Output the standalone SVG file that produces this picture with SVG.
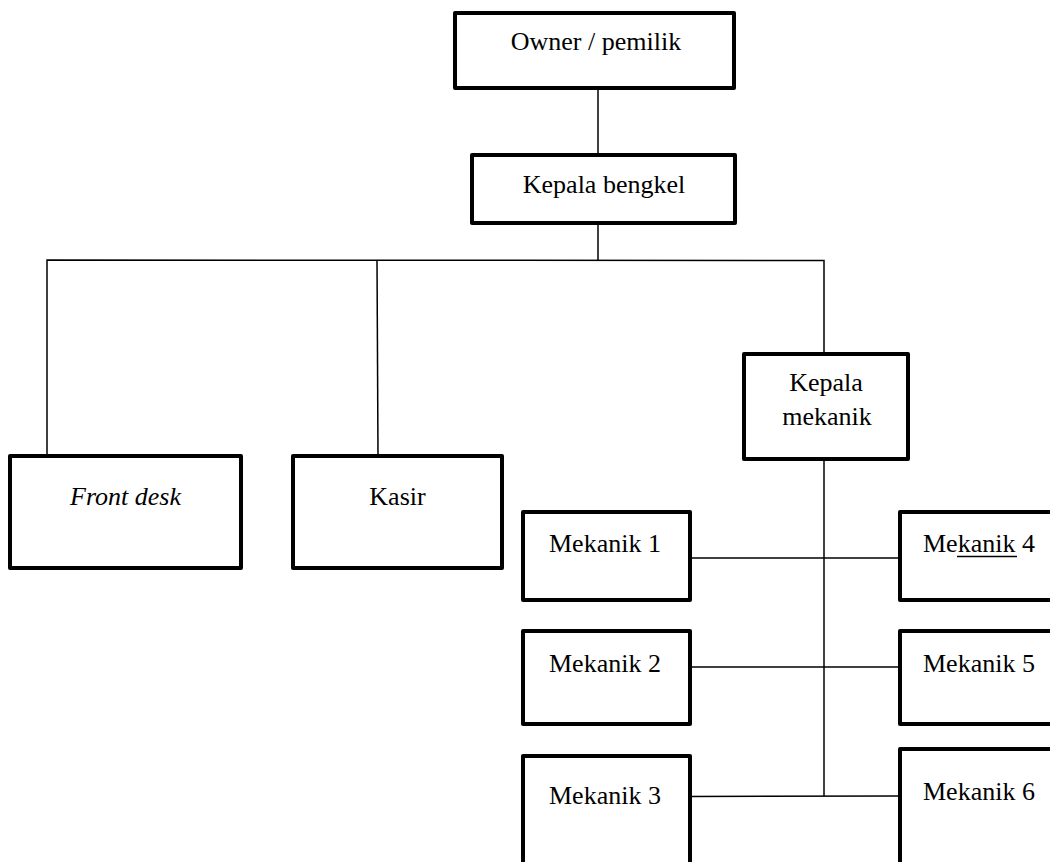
<svg xmlns="http://www.w3.org/2000/svg" width="1050" height="862" viewBox="0 0 1050 862">
<style>
.box{fill:#fff;stroke:#000;stroke-width:4;stroke-linejoin:round}
.ln{fill:none;stroke:#000;stroke-width:1.5}
text{font-family:"Liberation Serif","Times New Roman",serif;font-size:26px;fill:#000}
.c{text-anchor:middle}
</style>
<rect width="1050" height="862" fill="#fff"/>
<g id="connectors">
<line class="ln" x1="598" y1="88" x2="598" y2="155"/>
<line class="ln" x1="598" y1="215" x2="598" y2="260"/>
<polyline class="ln" points="47,456 47,260 824,260.5 824,354"/>
<line class="ln" x1="377" y1="260" x2="378" y2="456"/>
<line class="ln" x1="824" y1="458" x2="824" y2="796"/>
<line class="ln" x1="690" y1="558" x2="900" y2="558"/>
<line class="ln" x1="690" y1="667" x2="900" y2="667"/>
<line class="ln" x1="690" y1="796.5" x2="900" y2="796"/>
</g>
<g id="owner"><rect class="box" x="455" y="13" width="279" height="75"/><text class="c" x="596" y="50">Owner / pemilik</text></g>
<g id="kepala-bengkel"><rect class="box" x="472" y="155" width="263" height="68"/><text class="c" x="604" y="193">Kepala bengkel</text></g>
<g id="front-desk"><rect class="box" x="10" y="456" width="231" height="112"/><text class="c" x="125.5" y="505" font-style="italic">Front desk</text></g>
<g id="kasir"><rect class="box" x="293" y="456" width="209" height="112"/><text class="c" x="397.5" y="505">Kasir</text></g>
<g id="kepala-mekanik"><rect class="box" x="744" y="354" width="164" height="105"/><text class="c" x="826" y="391">Kepala</text><text class="c" x="827" y="425">mekanik</text></g>
<g id="mekanik1"><rect class="box" x="523" y="512" width="167" height="88"/><text x="549" y="552">Mekanik 1</text></g>
<g id="mekanik2"><rect class="box" x="523" y="631" width="167" height="93"/><text x="549" y="672">Mekanik 2</text></g>
<g id="mekanik3"><rect class="box" x="523" y="756" width="167" height="130"/><text x="549" y="804">Mekanik 3</text></g>
<g id="mekanik4"><rect class="box" x="900" y="512" width="180" height="88"/><text x="923" y="552">Mekanik 4</text><line x1="957" y1="556.5" x2="1017" y2="556.5" stroke="#000" stroke-width="1.3"/></g>
<g id="mekanik5"><rect class="box" x="900" y="631" width="180" height="93"/><text x="923" y="672">Mekanik 5</text></g>
<g id="mekanik6"><rect class="box" x="900" y="749" width="180" height="140"/><text x="923" y="800">Mekanik 6</text></g>
</svg>
